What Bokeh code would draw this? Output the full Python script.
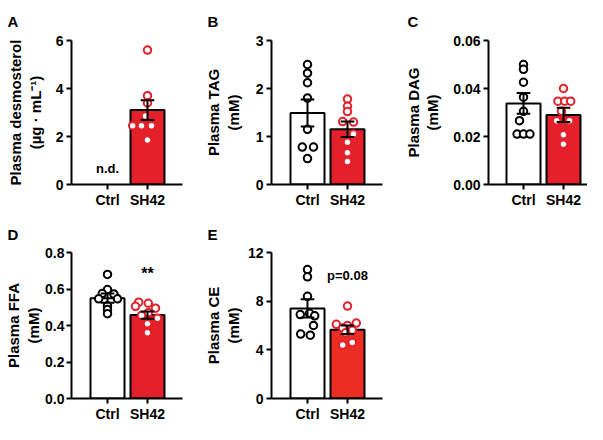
from bokeh.plotting import figure
from bokeh.layouts import column, row
from bokeh.models import Range1d, FixedTicker, Label, PrintfTickFormatter, ColumnDataSource
from bokeh.embed import file_html
from bokeh.resources import INLINE

FONT = "Liberation Sans"
RED = "#e4202a"

groups = ["Ctrl", "SH42"]

# Panel A: plasma desmosterol (Ctrl not detected)
a_sh42 = [5.6, 3.7, 3.4, 2.85, 2.45, 2.45, 2.45, 1.85]
a_sh42_jit = [0.0, 0.0, 0.0, -0.05, -0.37, -0.15, 0.1, 0.0]
a_mean = [None, 3.1]
a_sem = [None, 0.41]

# Panel B: plasma TAG
b_ctrl = [2.5, 2.32, 2.12, 1.8, 1.15, 0.78, 0.78, 0.54]
b_ctrl_jit = [0, 0, 0, 0, 0, -0.13, 0.15, 0]
b_sh42 = [1.78, 1.63, 1.52, 1.31, 1.3, 1.05, 0.88, 0.66, 0.48]
b_sh42_jit = [0, 0, 0, -0.12, 0.15, 0.15, 0, 0, 0]
b_mean = [1.49, 1.15]
b_sem = [0.28, 0.16]

# Panel C: plasma DAG
c_ctrl = [0.050, 0.048, 0.0426, 0.0364, 0.0305, 0.0266, 0.021, 0.021, 0.021]
c_ctrl_jit = [0, 0, 0, 0, 0, -0.1, -0.16, 0, 0.16]
c_sh42 = [0.040, 0.0347, 0.0347, 0.0347, 0.0305, 0.0266, 0.0266, 0.0207, 0.0168]
c_sh42_jit = [0, -0.14, 0.03, 0.18, -0.05, -0.17, 0.15, 0, 0]
c_mean = [0.0338, 0.029]
c_sem = [0.0043, 0.003]

# Panel D: plasma FFA
d_ctrl = [0.68, 0.597, 0.575, 0.572, 0.546, 0.546, 0.508, 0.487, 0.465]
d_ctrl_jit = [0, 0, -0.13, 0.16, -0.22, 0.25, 0, 0, 0]
d_sh42 = [0.528, 0.522, 0.505, 0.495, 0.47, 0.455, 0.44, 0.41, 0.36]
d_sh42_jit = [-0.22, 0.02, -0.3, 0.2, 0.02, -0.15, 0.25, 0, 0]
d_mean = [0.55, 0.457]
d_sem = [0.025, 0.02]

# Panel E: plasma CE
e_ctrl = [10.6, 10.0, 8.4, 7.0, 6.9, 6.8, 6.0, 5.3, 5.2]
e_ctrl_jit = [0, 0, 0, 0.05, -0.18, 0.18, 0.15, -0.17, 0.07]
e_sh42 = [7.6, 6.2, 6.1, 6.0, 5.8, 5.6, 5.4, 4.6, 4.4]
e_sh42_jit = [0, 0.22, -0.28, 0, -0.12, 0.12, -0.05, 0.12, -0.12]
e_mean = [7.4, 5.65]
e_sem = [0.75, 0.35]

y_ticks_a = [0, 2, 4, 6]
y_ticks_b = [0, 1, 2, 3]
y_ticks_c = [0, 0.02, 0.04, 0.06]
y_ticks_d = [0, 0.2, 0.4, 0.6, 0.8]
y_ticks_e = [0, 4, 8, 12]

PX_PER_UNIT = 40.0


def make_panel(letter, title, yticks, fmt, width, height, left, top, bottom,
               frame_w, ctrl_off, label_standoff, letter_standoff, tick_standoff=3):
    start = -ctrl_off / PX_PER_UNIT
    end = start + frame_w / PX_PER_UNIT
    p = figure(width=width, height=height, output_backend="svg", toolbar_location=None,
               x_range=Range1d(start, end), y_range=Range1d(yticks[0], yticks[-1]),
               min_border_left=left, min_border_right=width - left - frame_w,
               min_border_top=top, min_border_bottom=bottom)
    p.outline_line_color = None
    p.grid.visible = False
    p.background_fill_color = "white"
    for ax in (p.xaxis[0], p.yaxis[0]):
        ax.axis_line_width = 2
        ax.major_tick_line_width = 2
        ax.major_tick_out = 5
        ax.major_tick_in = 0
        ax.minor_tick_line_color = None
        ax.major_label_text_font = FONT
        ax.major_label_text_font_style = "bold"
        ax.major_label_text_font_size = "14px"
        ax.major_label_text_color = "black"
    p.xaxis.ticker = FixedTicker(ticks=[0, 1])
    p.xaxis.major_label_overrides = {0: groups[0], 1: groups[1]}
    p.xaxis.major_label_standoff = 2
    p.yaxis.ticker = FixedTicker(ticks=yticks)
    p.yaxis.formatter = PrintfTickFormatter(format=fmt)
    p.yaxis.major_label_standoff = tick_standoff
    p.yaxis.axis_label = title
    p.yaxis.axis_label_text_font = FONT
    p.yaxis.axis_label_text_font_style = "bold"
    p.yaxis.axis_label_text_font_size = "15px"
    p.yaxis.axis_label_text_line_height = 1.15
    p.yaxis.axis_label_standoff = label_standoff
    p.yaxis.axis_label_text_color = "black"
    p.title.text = letter
    p.title.align = "left"
    p.title.offset = 7 - left
    p.title.standoff = letter_standoff
    p.title.text_font = FONT
    p.title.text_font_style = "bold"
    p.title.text_font_size = "15px"
    p.title.text_color = "black"
    return p


def draw_group(p, xi, vals, jit, mean, sem, fill, edge):
    if mean is not None:
        p.vbar(x=[xi], top=[mean], width=0.85, bottom=0, fill_color=fill,
               line_color="black", line_width=2)
    src = ColumnDataSource(dict(x=[xi + j for j in jit], y=vals))
    p.scatter("x", "y", source=src, size=7.5, fill_color="white", line_color=edge, line_width=2)
    if mean is not None:
        lo, hi = mean - sem, mean + sem
        p.segment(x0=[xi], y0=[lo], x1=[xi], y1=[hi], line_color="black", line_width=2)
        p.segment(x0=[xi - 0.17, xi - 0.17], y0=[lo, hi], x1=[xi + 0.17, xi + 0.17], y1=[lo, hi],
                  line_color="black", line_width=2)


def note(p, x, y, text, size):
    p.add_layout(Label(x=x, y=y, text=text, text_font=FONT, text_font_style="bold",
                       text_font_size=size, text_color="black",
                       text_align="center", text_baseline="bottom"))


# geometry (rows must fit in 587 x 424)
H1, TOP1, FH1 = 210, 37, 150
H2, TOP2, FH2 = 214, 42, 149

pA = make_panel("A", "Plasma desmosterol\n(\u00b5g \u00b7 mL\u207b\u00b9)", y_ticks_a, "%d",
                200, H1, 71, TOP1, H1 - TOP1 - FH1, 111, 36, 9, 21)
draw_group(pA, 1, a_sh42, a_sh42_jit, a_mean[1], a_sem[1], RED, RED)
note(pA, 0, 0.35, "n.d.", "13px")

pB = make_panel("B", "Plasma TAG\n(mM)", y_ticks_b, "%d", 200, H1, 71, TOP1, H1 - TOP1 - FH1,
                111, 36, 11, 21)
draw_group(pB, 0, b_ctrl, b_ctrl_jit, b_mean[0], b_sem[0], "white", "black")
draw_group(pB, 1, b_sh42, b_sh42_jit, b_mean[1], b_sem[1], RED, RED)

pC = make_panel("C", "Plasma DAG\n(mM)", y_ticks_c, "%.2f", 187, H1, 88, TOP1, H1 - TOP1 - FH1,
                99, 35, 9, 21)
draw_group(pC, 0, c_ctrl, c_ctrl_jit, c_mean[0], c_sem[0], "white", "black")
draw_group(pC, 1, c_sh42, c_sh42_jit, c_mean[1], c_sem[1], RED, RED)

pD = make_panel("D", "Plasma FFA\n(mM)", y_ticks_d, "%.1f", 200, H2, 71, TOP2, H2 - TOP2 - FH2,
                111, 36, 0, 19, tick_standoff=2)
draw_group(pD, 0, d_ctrl, d_ctrl_jit, d_mean[0], d_sem[0], "white", "black")
draw_group(pD, 1, d_sh42, d_sh42_jit, d_mean[1], d_sem[1], RED, RED)
note(pD, 1, 0.64, "**", "16px")

pE = make_panel("E", "Plasma CE\n(mM)", y_ticks_e, "%d", 200, H2, 71, TOP2, H2 - TOP2 - FH2,
                111, 36, 3, 19)
draw_group(pE, 0, e_ctrl, e_ctrl_jit, e_mean[0], e_sem[0], "white", "black")
draw_group(pE, 1, e_sh42, e_sh42_jit, e_mean[1], e_sem[1], "#ec2d24", RED)
note(pE, 1, 9.5, "p=0.08", "13px")

layout = column(row(pA, pB, pC), row(pD, pE))
open("out.html", "w").write(file_html(layout, INLINE))
